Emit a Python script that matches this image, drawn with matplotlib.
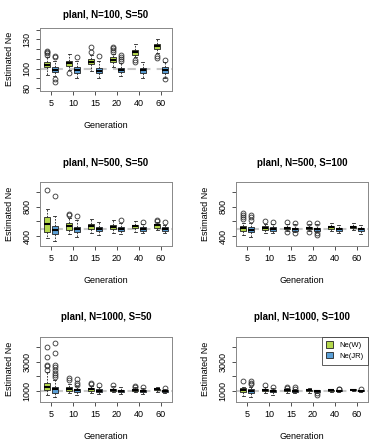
import matplotlib
matplotlib.use("Agg")
import matplotlib.pyplot as plt
from matplotlib.patches import Patch

plt.rcParams['font.family'] = ['Liberation Sans', 'DejaVu Sans']

generations = ["5", "10", "15", "20", "40", "60"]
titles = ["planl, N=100, S=50", "planl, N=500, S=50", "planl, N=500, S=100",
          "planl, N=1000, S=50", "planl, N=1000, S=100"]
true_N = [100, 500, 500, 1000, 1000]
series_names = ["Ne(W)", "Ne(JR)"]

# stats per generation: [whislo, q1, median, q3, whishi]
a_W = [[94, 101.5, 104, 107, 111.5], [99, 103, 105.5, 108, 115], [97.5, 104.5, 107, 110, 114.5],
       [102, 106.5, 109, 112, 115.5], [111.5, 114.5, 117, 119.5, 125.5], [116.5, 120.5, 123, 125.5, 130.5]]
a_W_out = [[114.5, 116, 117.5, 118.5], [95.5], [117, 122.5], [117.5, 119.5, 121, 122.5], [106.5, 109], [111, 113]]
a_JR = [[92.5, 96.5, 99, 102, 107.5], [90.5, 96, 98.5, 101.5, 107.5], [90.5, 95.5, 98, 101, 107.5],
        [93, 96.5, 98.5, 101, 106], [90, 96, 98.5, 101, 106.5], [90.5, 96, 98.5, 101.5, 106.5]]
a_JR_out = [[111.5, 113, 89, 86.5], [111.5], [113.5], [108, 110, 112, 114], [], [108.5, 89]]

b_W = [[380, 450, 560, 655, 770], [425, 485, 540, 575, 640], [445, 495, 535, 560, 630],
       [445, 495, 527, 550, 618], [460, 505, 535, 550, 605], [480, 515, 545, 560, 595]]
b_W_out = [[1025], [685, 705], [], [], [], [610, 620]]
b_JR = [[335, 425, 483, 540, 670], [385, 450, 490, 518, 615], [415, 468, 503, 527, 595],
        [427, 468, 490, 518, 575], [445, 468, 490, 518, 560], [436, 473, 498, 518, 555]]
b_JR_out = [[945], [675], [], [615], [585], [585]]

c_W = [[414, 475, 505, 536, 573], [445, 485, 515, 536, 570], [473, 495, 514, 527, 564],
       [470, 493, 509, 525, 560], [473, 500, 518, 536, 573], [482, 510, 527, 540, 573]]
c_W_out = [[632, 660, 690, 718], [609], [586, 459], [582, 459], [], []]
c_JR = [[391, 455, 482, 518, 573], [436, 473, 500, 527, 560], [450, 475, 495, 514, 560],
        [450, 475, 495, 514, 560], [436, 475, 495, 514, 550], [427, 475, 491, 510, 550]]
c_JR_out = [[618, 655, 686], [595], [573, 436], [573, 445, 414], [], []]

d_W = [[730, 1070, 1295, 1520, 2320], [840, 1020, 1160, 1295, 1480], [840, 1020, 1115, 1205, 1340],
       [900, 1020, 1090, 1160, 1340], [910, 1030, 1090, 1140, 1270], [950, 1050, 1110, 1160, 1250]]
d_W_out = [[2430, 2700, 2770, 3340, 3980], [1750, 1860], [1480, 1570], [1410], [1300, 1360], []]
d_JR = [[570, 840, 1115, 1295, 1750], [730, 955, 1070, 1160, 1340], [800, 930, 1020, 1135, 1295],
        [800, 930, 1020, 1090, 1250], [820, 950, 1000, 1090, 1200], [860, 960, 1020, 1070, 1160]]
d_JR_out = [[1930, 2090, 2250, 2430, 2610, 2770, 3610, 4300], [1410, 1570, 1800], [1410], [], [1250], [1180]]

e_W = [[660, 955, 1070, 1180, 1300], [870, 1000, 1070, 1140, 1250], [840, 1000, 1070, 1140, 1200],
       [870, 1000, 1070, 1100, 1200], [950, 1020, 1045, 1090, 1160], [980, 1040, 1070, 1110, 1140]]
e_W_out = [[1700], [1410], [1230, 1300], [], [], []]
e_JR = [[610, 890, 1020, 1160, 1300], [730, 930, 1000, 1070, 1200], [860, 960, 1020, 1070, 1150],
        [890, 950, 1000, 1040, 1100], [930, 980, 1020, 1050, 1100], [940, 990, 1020, 1060, 1100]]
e_JR_out = [[1480, 1570, 1700], [1300], [1160, 1250], [840, 750], [1110, 1140], [1140]]

panels = [(a_W, a_W_out, a_JR, a_JR_out), (b_W, b_W_out, b_JR, b_JR_out),
          (c_W, c_W_out, c_JR, c_JR_out), (d_W, d_W_out, d_JR, d_JR_out),
          (e_W, e_W_out, e_JR, e_JR_out)]

ylims = [(77.5, 142), (265, 1140), (265, 1140), (270, 4700), (270, 4700)]
yticks = [[80, 90, 100, 110, 120, 130, 140], [400, 600, 800, 1000], [400, 600, 800, 1000],
          [1000, 2000, 3000, 4000], [1000, 2000, 3000, 4000]]
ylabels_shown = [[80, 100, 130], [400, 800], [400, 800], [1000, 3000], [1000, 3000]]

col_W = "#b5d84c"
col_JR = "#5b9fd6"

W, H = 373, 440
fig = plt.figure(figsize=(W / 100, H / 100), dpi=100)

# axes rects in pixels: left, top, right, bottom
rects_px = [(40, 27.7, 172, 90.7),
            (40, 181.7, 172, 246),
            (236, 181.7, 368, 246),
            (40, 336.7, 172, 401.7),
            (236, 336.7, 368, 401.7)]
title_y_px = [15, 162.7, 162.7, 316.7, 316.7]

def to_stats(s, out):
    return dict(whislo=s[0], q1=s[1], med=s[2], q3=s[3], whishi=s[4], fliers=out)

edge = "#222222"
for i, (rp, pdata) in enumerate(zip(rects_px, panels)):
    l, t, r, b = rp
    ax = fig.add_axes([l / W, 1 - b / H, (r - l) / W, (b - t) / H])
    ax.axhline(true_N[i], color="#c8c8c8", lw=1.5, ls=(0, (4, 3)), zorder=0)
    ws, wo, js, jo = pdata
    for k, (st, ot, col, off) in enumerate([(ws, wo, col_W, -1 / 6), (js, jo, col_JR, 1 / 6)]):
        stats = [to_stats(s, o) for s, o in zip(st, ot)]
        pos = [g + off for g in range(len(generations))]
        ax.bxp(stats, positions=pos, widths=0.28, capwidths=0.14, patch_artist=True,
               manage_ticks=False,
               boxprops=dict(facecolor=col, edgecolor=edge, lw=0.6),
               medianprops=dict(color="black", lw=1.5, solid_capstyle="butt"),
               whiskerprops=dict(color=edge, lw=0.6, ls=(0, (2, 1.5))),
               capprops=dict(color=edge, lw=0.6),
               flierprops=dict(marker="o", mfc="none", mec="#333333", ms=3.5, mew=0.6))
    ax.set_xlim(-0.5, 5.5)
    ax.set_ylim(*ylims[i])
    ax.set_xticks(range(len(generations)))
    ax.set_xticklabels(generations, fontsize=6.5)
    ax.set_yticks(yticks[i])
    ax.set_yticklabels([str(v) if v in ylabels_shown[i] else "" for v in yticks[i]],
                       fontsize=6.5, rotation=90, va="center")
    ax.tick_params(length=3, width=0.6, color="#333333", pad=3)
    for sp in ax.spines.values():
        sp.set_color("#888888")
        sp.set_linewidth(0.7)
    ax.set_xlabel("Generation", fontsize=6.5, labelpad=9)
    ax.set_ylabel("Estimated Ne", fontsize=6.5, labelpad=6)
    fig.text(((l + r) / 2) / W, 1 - title_y_px[i] / H, titles[i], ha="center", va="center",
             fontsize=7, fontweight="bold")
    if i == 4:
        handles = [Patch(facecolor=col_W, edgecolor=edge, lw=0.6),
                   Patch(facecolor=col_JR, edgecolor=edge, lw=0.6)]
        leg = ax.legend(handles, series_names, loc="upper right", fontsize=5.5, frameon=True,
                        fancybox=False, borderaxespad=0, handlelength=0.9, handleheight=0.9,
                        handletextpad=0.8, borderpad=0.6, labelspacing=0.4)
        leg.get_frame().set_edgecolor("#333333")
        leg.get_frame().set_linewidth(0.7)

fig.savefig("out.png", dpi=100)
